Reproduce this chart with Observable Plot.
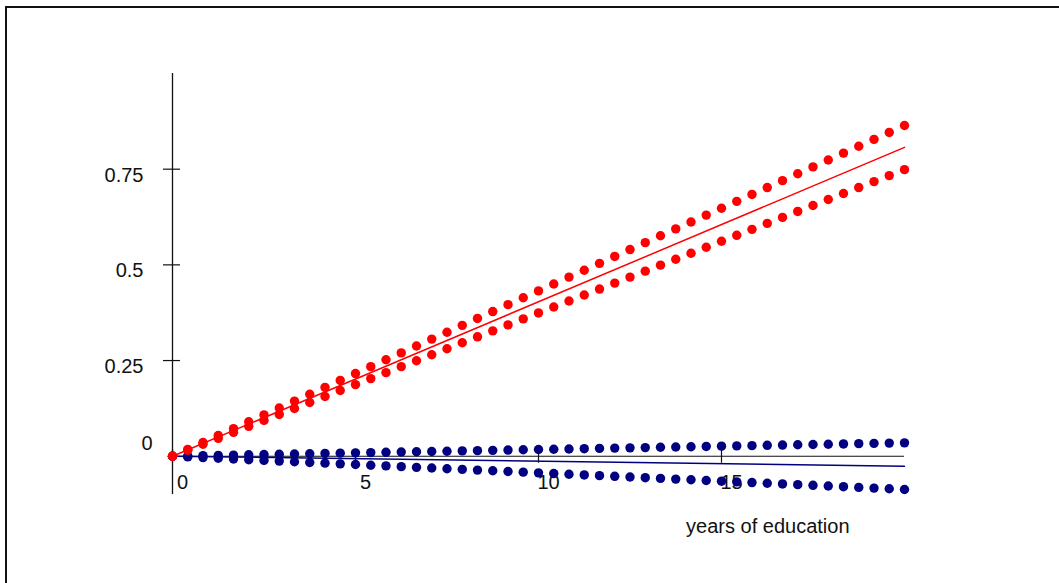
<!DOCTYPE html>
<html>
<head>
<meta charset="utf-8">
<script src="https://cdn.jsdelivr.net/npm/d3@7"></script>
<script src="https://cdn.jsdelivr.net/npm/@observablehq/plot@0.6"></script>
<style>
  html, body { margin: 0; padding: 0; background: #fff; overflow: hidden; }
  #frame { position: absolute; left: 5px; top: 6px; width: 3000px; height: 3000px;
           border-left: 2px solid #111; border-top: 2px solid #111; }
  #chart { position: absolute; left: 0; top: 0; }
</style>
</head>
<body>
<div id="frame"></div>
<div id="chart"></div>
<script>
// years of education at which the effect is evaluated
const years = [0, 0.417, 0.833, 1.25, 1.667, 2.083, 2.5, 2.917, 3.333, 3.75, 4.167, 4.583, 5,
  5.417, 5.833, 6.25, 6.667, 7.083, 7.5, 7.917, 8.333, 8.75, 9.167, 9.583, 10,
  10.417, 10.833, 11.25, 11.667, 12.083, 12.5, 12.917, 13.333, 13.75, 14.167, 14.583, 15,
  15.417, 15.833, 16.25, 16.667, 17.083, 17.5, 17.917, 18.333, 18.75, 19.167, 19.583, 20];

// red series: confidence bounds
const redUpper = [0, 0.018, 0.036, 0.054, 0.072, 0.090, 0.108, 0.126, 0.144, 0.162, 0.180, 0.198, 0.216,
  0.234, 0.252, 0.270, 0.288, 0.306, 0.324, 0.342, 0.360, 0.378, 0.396, 0.414, 0.432,
  0.450, 0.468, 0.486, 0.504, 0.522, 0.540, 0.558, 0.576, 0.594, 0.612, 0.630, 0.648,
  0.666, 0.684, 0.702, 0.720, 0.738, 0.756, 0.774, 0.792, 0.810, 0.828, 0.846, 0.864];
const redLower = [0, 0.0156, 0.0312, 0.0468, 0.0624, 0.078, 0.0936, 0.1092, 0.1248, 0.1404, 0.156, 0.1716, 0.1872,
  0.2028, 0.2184, 0.234, 0.2496, 0.2652, 0.2808, 0.2964, 0.312, 0.3276, 0.3432, 0.3588, 0.3744,
  0.39, 0.4056, 0.4212, 0.4368, 0.4524, 0.468, 0.4836, 0.4992, 0.5148, 0.5304, 0.546, 0.5616,
  0.5772, 0.5928, 0.6084, 0.624, 0.6396, 0.6552, 0.6708, 0.6864, 0.702, 0.7176, 0.7332, 0.7488];

// blue series: confidence bounds
const blueUpper = [0, 0.0007, 0.0015, 0.0022, 0.0029, 0.0037, 0.0044, 0.0051, 0.0058, 0.0066, 0.0073, 0.008, 0.0088,
  0.0095, 0.0102, 0.011, 0.0117, 0.0124, 0.0131, 0.0139, 0.0146, 0.0153, 0.0161, 0.0168, 0.0175,
  0.0183, 0.019, 0.0197, 0.0204, 0.0212, 0.0219, 0.0226, 0.0234, 0.0241, 0.0248, 0.0256, 0.0263,
  0.027, 0.0277, 0.0285, 0.0292, 0.0299, 0.0307, 0.0314, 0.0321, 0.0329, 0.0336, 0.0343, 0.035];
const blueLower = [0, -0.0018, -0.0036, -0.0054, -0.0072, -0.0091, -0.0109, -0.0127, -0.0145, -0.0163, -0.0181, -0.0199, -0.0217,
  -0.0235, -0.0253, -0.0272, -0.029, -0.0308, -0.0326, -0.0344, -0.0362, -0.038, -0.0398, -0.0416, -0.0434,
  -0.0453, -0.0471, -0.0489, -0.0507, -0.0525, -0.0543, -0.0561, -0.0579, -0.0597, -0.0615, -0.0634, -0.0652,
  -0.067, -0.0688, -0.0706, -0.0724, -0.0742, -0.076, -0.0778, -0.0796, -0.0815, -0.0833, -0.0851, -0.0869];

// fitted lines (endpoints)
const lineYears = [0, 20];
const redFit = [0, 0.807];
const blueFit = [0, -0.026];

// ticks
const xTicks = [0, 5, 10, 15];
const xTickLabels = ["0", "5", "10", "15"];
const yTicks = [0.25, 0.5, 0.75];
const yTickLabels = ["0.25", "0.5", "0.75"];
const xLabel = "years of education";

const RED = "#ff0000", NAVY = "#000080", INK = "#111";
const FONT = "Liberation Sans, Arial, sans-serif";

const pts = (ys) => years.map((x, i) => ({x, y: ys[i]}));
const fit = (ys) => lineYears.map((x, i) => ({x, y: ys[i]}));

const chart = Plot.plot({
  width: 1059,
  height: 583,
  marginLeft: 172,
  marginRight: 155,
  marginTop: 73,
  marginBottom: 89,
  style: {fontFamily: FONT, background: "transparent"},
  x: {domain: [0, 20], axis: null},
  y: {domain: [-0.1, 1.0], axis: null},
  marks: [
    // axes
    Plot.ruleX([0], {stroke: INK, strokeWidth: 1.3}),
    Plot.ruleY([0], {stroke: INK, strokeWidth: 1.1}),
    Plot.ruleX(xTicks, {x: d => d, y1: 0, y2: 0, insetTop: -7, insetBottom: -7, stroke: INK, strokeWidth: 1.2}),
    Plot.ruleY(yTicks, {y: d => d, x1: 0, x2: 0, insetLeft: -9, insetRight: -8, stroke: INK, strokeWidth: 1.2}),
    Plot.text(xTicks, {x: d => d, text: (d, i) => xTickLabels[i], frameAnchor: "bottom", lineAnchor: "middle",
      dy: -12, dx: 10, fontSize: 20, fill: INK}),
    Plot.text(yTicks, {y: d => d, text: (d, i) => yTickLabels[i], frameAnchor: "left", lineAnchor: "middle",
      dx: -29, dy: 6, textAnchor: "end", fontSize: 20, fill: INK}),
    Plot.text([0], {y: d => d, text: ["0"], frameAnchor: "left", lineAnchor: "middle", dx: -20, dy: -13,
      textAnchor: "end", fontSize: 20, fill: INK}),
    Plot.text([xLabel], {text: d => d, frameAnchor: "bottom-right", lineAnchor: "middle", dx: -55, dy: 32,
      textAnchor: "end", fontSize: 20, fill: INK}),
    // blue series
    Plot.line(fit(blueFit), {x: "x", y: "y", stroke: NAVY, strokeWidth: 1.5}),
    Plot.dot(pts(blueUpper), {x: "x", y: "y", r: 4.7, fill: NAVY}),
    Plot.dot(pts(blueLower), {x: "x", y: "y", r: 4.7, fill: NAVY}),
    // red series
    Plot.line(fit(redFit), {x: "x", y: "y", stroke: RED, strokeWidth: 1.5}),
    Plot.dot(pts(redUpper), {x: "x", y: "y", r: 4.7, fill: RED}),
    Plot.dot(pts(redLower), {x: "x", y: "y", r: 4.7, fill: RED})
  ]
});
document.getElementById("chart").appendChild(chart);
</script>
</body>
</html>
